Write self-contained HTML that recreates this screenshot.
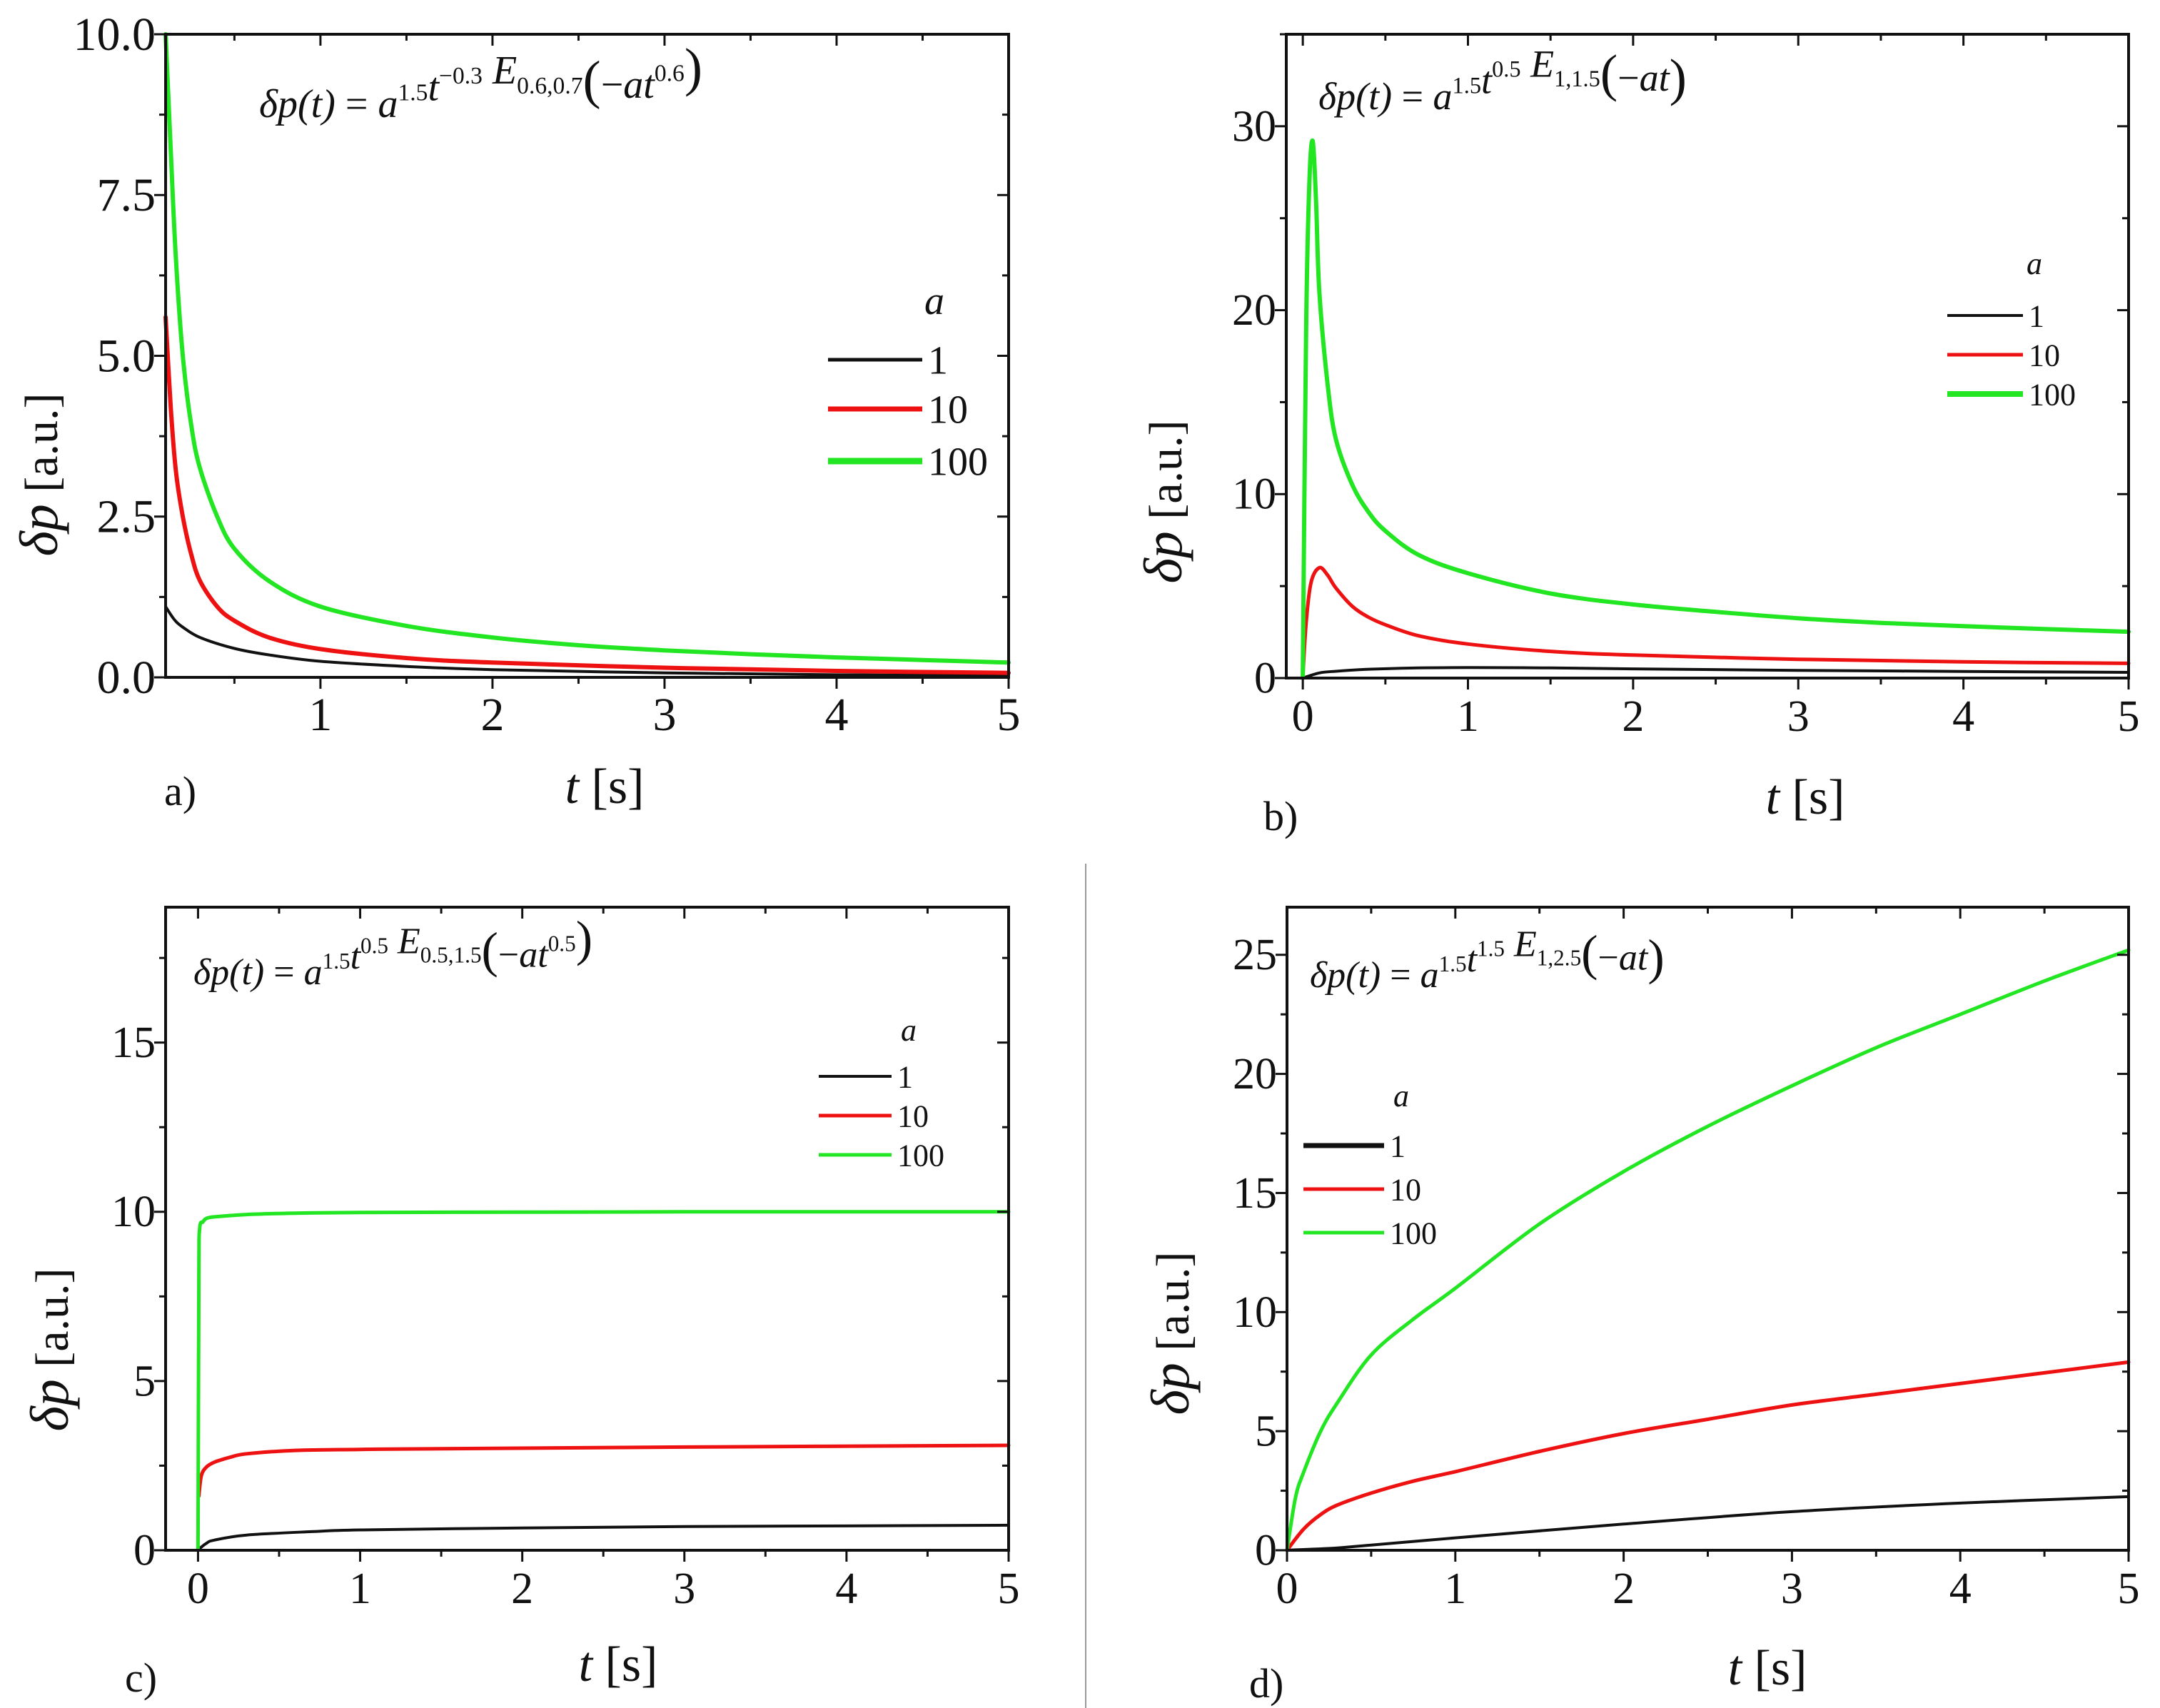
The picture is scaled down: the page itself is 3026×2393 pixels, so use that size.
<!DOCTYPE html>
<html><head><meta charset="utf-8">
<style>
html,body{margin:0;padding:0;background:#fff;}
svg{display:block;}
text{font-family:"Liberation Serif","Times New Roman",serif;fill:#111;}
</style></head>
<body>
<svg id="fig" width="3026" height="2393" viewBox="0 0 3026 2393" xmlns="http://www.w3.org/2000/svg" font-family="Liberation Serif, serif">
<rect width="3026" height="2393" fill="#fff"/>
<line x1="1521" y1="1210" x2="1521" y2="2393" stroke="#999" stroke-width="2"/>
</svg>
<script>
// ---- Panel a data ----
const aT_green=[0.1,0.13,0.16,0.2,0.25,0.3,0.4,0.5,0.7,1,1.5,2,2.5,3,3.5,4,4.5,5];
const aV_green=[10,8.2,6.5,5.0,3.9,3.25,2.5,2.0,1.5,1.1,0.8,0.62,0.5,0.42,0.36,0.31,0.27,0.23];
const aT_red=[0.1,0.13,0.16,0.2,0.25,0.3,0.4,0.5,0.7,1,1.5,2,3,4,5];
const aV_red=[5.6,4.2,3.2,2.5,1.9,1.5,1.1,0.88,0.62,0.44,0.3,0.23,0.15,0.1,0.07];
const aT_black=[0.1,0.15,0.2,0.3,0.5,0.7,1,1.5,2,3,4,5];
const aV_black=[1.1,0.9,0.78,0.62,0.45,0.35,0.25,0.17,0.12,0.07,0.04,0.03];
const aXTicks=[1,2,3,4,5];
const aYTicks=[0,2.5,5,7.5,10];
const aYLabels=["0.0","2.5","5.0","7.5","10.0"];
// ---- Panel b data ----
const bT_green=[0,0.02,0.04,0.06,0.08,0.1,0.15,0.2,0.3,0.4,0.5,0.7,1,1.5,2,2.5,3,3.5,4,4.5,5];
const bV_green=[0,19,27,29.2,26,21,16,13,10.5,9,8,6.7,5.7,4.6,4.0,3.6,3.25,3.0,2.82,2.66,2.52];
const bT_red=[0,0.02,0.05,0.1,0.15,0.2,0.3,0.4,0.5,0.7,1,1.5,2,3,4,5];
const bV_red=[0,3,5.2,6,5.6,4.9,3.9,3.3,2.9,2.3,1.85,1.45,1.25,1.02,0.88,0.8];
const bT_black=[0,0.1,0.2,0.4,0.7,1,1.5,2,3,4,5];
const bV_black=[0,0.28,0.37,0.48,0.55,0.57,0.55,0.5,0.42,0.36,0.31];
const bXTicks=[0,1,2,3,4,5];
const bYTicks=[0,10,20,30];
// ---- Panel c data ----
const cT_green=[0,0.005,0.01,0.03,0.05,0.1,0.3,0.6,1,2,3,4,5];
const cV_green=[0,8.0,9.5,9.7,9.8,9.85,9.92,9.96,9.98,9.99,10,10,10];
const cT_red=[0.005,0.02,0.05,0.1,0.2,0.3,0.6,1,1.5,3,5];
const cV_red=[1.6,2.2,2.45,2.6,2.75,2.85,2.95,2.98,3.0,3.05,3.1];
const cT_black=[0,0.01,0.05,0.1,0.3,0.7,1,2,3,4,5];
const cV_black=[0,0.05,0.2,0.3,0.45,0.55,0.6,0.66,0.7,0.72,0.74];
const cXTicks=[0,1,2,3,4,5];
const cYTicks=[0,5,10,15];
// ---- Panel d data ----
const dT_green=[0,0.05,0.1,0.2,0.3,0.5,0.75,1,1.5,2,2.5,3,3.5,4,4.5,5];
const dV_green=[0,2.2,3.3,5.0,6.2,8.2,9.7,11,13.7,15.9,17.8,19.5,21.1,22.5,23.9,25.2];
const dT_red=[0,0.1,0.2,0.3,0.5,0.75,1,1.5,2,2.5,3,3.5,4,4.5,5];
const dV_red=[0,0.9,1.5,1.9,2.4,2.9,3.3,4.15,4.9,5.5,6.1,6.55,7.0,7.45,7.9];
const dT_black=[0,0.3,0.5,1,2,3,4,5];
const dV_black=[0,0.1,0.22,0.52,1.1,1.62,1.98,2.25];
const dXTicks=[0,1,2,3,4,5];
const dYTicks=[0,5,10,15,20,25];

const NS="http://www.w3.org/2000/svg";
const svg=document.getElementById('fig');
function mk(tag,attrs,parent){const e=document.createElementNS(NS,tag);for(const k in attrs)e.setAttribute(k,attrs[k]);(parent||svg).appendChild(e);return e;}
function smoothPath(P){
  let d='M'+P[0][0].toFixed(1)+','+P[0][1].toFixed(1);
  for(let i=0;i<P.length-1;i++){
    const p0=P[i-1]||P[i],p1=P[i],p2=P[i+1],p3=P[i+2]||P[i+1];
    const c1=[p1[0]+(p2[0]-p0[0])/6,p1[1]+(p2[1]-p0[1])/6];
    const c2=[p2[0]-(p3[0]-p1[0])/6,p2[1]-(p3[1]-p1[1])/6];
    d+=' C'+c1.map(v=>v.toFixed(1)).join(',')+' '+c2.map(v=>v.toFixed(1)).join(',')+' '+p2.map(v=>v.toFixed(1)).join(',');
  }
  return d;
}
function panel(p){
  const g=mk('g',{});
  
  
  const sx=v=>p.L+(v-p.x0)/(p.x1-p.x0)*(p.R-p.L);
  const sy=v=>p.B-(v-p.y0)/(p.y1-p.y0)*(p.B-p.T);
  p.series.forEach(s=>{
    const P=s.t.map((t,i)=>[sx(t),sy(s.v[i])]);
    const pl=mk('path',{d:smoothPath(P),fill:'none',stroke:s.c,'stroke-width':s.w,'stroke-linejoin':'round','stroke-linecap':'round'},g);
    
    
  });
  const fr=mk('rect',{x:p.L,y:p.T,width:p.R-p.L,height:p.B-p.T,fill:'none',stroke:'#111','stroke-width':4},g);
  
  
  const ticks=mk('g',{stroke:'#111','stroke-width':3},g);
  
  
  for(let v=p.xMinorStart;v<=p.x1+1e-9;v+=p.xMinor){
    const x=sx(v),major=Math.abs(v-Math.round(v))<1e-6;const len=major?16:9;
    mk('line',{x1:x,y1:p.B,x2:x,y2:p.B+len},ticks);
    mk('line',{x1:x,y1:p.T,x2:x,y2:p.T+len},ticks);
  }
  for(let v=p.y0;v<=p.y1+1e-9;v+=p.yMinor){
    const y=sy(v),major=p.yTicks.some(t=>Math.abs(t-v)<1e-6);const len=major?16:9;
    mk('line',{x1:p.L-len,y1:y,x2:p.L,y2:y},ticks);
    mk('line',{x1:p.R-len,y1:y,x2:p.R,y2:y},ticks);
  }
  p.xTicks.forEach(v=>{
    const t=mk('text',{x:sx(v),y:p.B+74,'text-anchor':'middle','font-size':p.fs},g);
    
    
    t.textContent=String(v);
  });
  p.yTicks.forEach((v,i)=>{
    const t=mk('text',{x:p.L-14,y:sy(v)+p.fs*0.33,'text-anchor':'end','font-size':p.fs},g);
    
    
    t.textContent=p.yLabels?p.yLabels[i]:String(v);
  });
  const xt=mk('text',{x:p.xt[0],y:p.xt[1],'text-anchor':'middle','font-size':70},g);
  
  
  xt.innerHTML='<tspan font-style="italic">t</tspan> [s]';
  const yt=mk('text',{x:0,y:0,'text-anchor':'middle','font-size':66,transform:`translate(${p.yt[0]},${p.yt[1]}) rotate(-90)`},g);
  
  
  yt.innerHTML='<tspan font-style="italic" font-size="76">δp</tspan> [a.u.]';
  const pl=mk('text',{x:p.pl[0],y:p.pl[1],'font-size':58},g);
  
  
  pl.textContent=p.plab;
  const f=mk('text',{x:p.fx,y:p.fy,'font-size':p.ffs,'font-style':'italic'},g);
  
  
  f.innerHTML=p.formula;
  const lg=mk('g',{},g);
  
  
  const ah=mk('text',{x:p.lg.ax,y:p.lg.ay,'font-size':p.lg.fs,'font-style':'italic'},lg);
  
  
  ah.textContent='a';
  p.series.forEach((s,i)=>{
    const y=p.lg.ys[i];
    const e=mk('g',{},lg);
    
    
    mk('line',{x1:p.lg.x1,y1:y,x2:p.lg.x2,y2:y,stroke:s.c,'stroke-width':s.lw},e);
    const t=mk('text',{x:p.lg.x2+8,y:y+p.lg.fs*0.35,'font-size':p.lg.fs},e);
    t.textContent=s.lab;
  });
}
const sup=(s,fs)=>`<tspan dy="-${fs*0.42}" font-size="${fs*0.6}" font-style="normal">${s}</tspan><tspan dy="${fs*0.42}"></tspan>`;
const sub=(s,fs)=>`<tspan dy="${fs*0.25}" font-size="${fs*0.6}" font-style="normal">${s}</tspan><tspan dy="-${fs*0.25}"></tspan>`;
const big=s=>`<tspan font-style="normal" font-size="1.35em" dy="6">${s}</tspan><tspan dy="-6"></tspan>`;
function formula(tPow,eSub,arg,fs){
  return `δp(t) <tspan font-style="normal">=</tspan> a${sup('1.5',fs)}t${sup(tPow,fs)} E${sub(eSub,fs)}${big('(')}<tspan font-style="normal">−</tspan>a${arg}${big(')')}`;
}
const G='#22e622',R='#ee1111',K='#111';

panel({name:'panel-a',L:232,R:1413,T:48,B:949,x0:0.1,x1:5,y0:0,y1:10,xMinor:0.5,xMinorStart:0.5,yMinor:1.25,
  xTicks:aXTicks,yTicks:aYTicks,yLabels:aYLabels,fs:66,xt:[847,1125],yt:[80,665],pl:[230,1128],plab:'a)',
  fx:363,fy:164,ffs:56,formula:formula('−0.3','0.6,0.7','t'+sup('0.6',56),56),
  lg:{ax:1295,ay:440,fs:56,x1:1160,x2:1292,ys:[504,573,646]},
  series:[{t:aT_black,v:aV_black,c:K,w:4,lw:5,lab:'1'},{t:aT_red,v:aV_red,c:R,w:6,lw:7,lab:'10'},{t:aT_green,v:aV_green,c:G,w:6,lw:9,lab:'100'}]});
panel({name:'panel-b',L:1802,R:2982,T:48,B:950,x0:-0.1,x1:5,y0:0,y1:35,xMinor:0.5,xMinorStart:0,yMinor:5,
  xTicks:bXTicks,yTicks:bYTicks,fs:62,xt:[2529,1140],yt:[1655,703],pl:[1770,1163],plab:'b)',
  fx:1847,fy:153,ffs:54,formula:formula('0.5','1,1.5','t',54),
  lg:{ax:2839,ay:384,fs:44,x1:2728,x2:2834,ys:[442,497,552]},
  series:[{t:bT_black,v:bV_black,c:K,w:4,lw:4,lab:'1'},{t:bT_red,v:bV_red,c:R,w:5,lw:5,lab:'10'},{t:bT_green,v:bV_green,c:G,w:6,lw:8,lab:'100'}]});
panel({name:'panel-c',L:232,R:1413,T:1271,B:2172,x0:-0.2,x1:5,y0:0,y1:19,xMinor:0.5,xMinorStart:0,yMinor:2.5,
  xTicks:cXTicks,yTicks:cYTicks,fs:62,xt:[866,2355],yt:[95,1891],pl:[175,2370],plab:'c)',
  fx:271,fy:1379,ffs:52,formula:formula('0.5','0.5,1.5','t'+sup('0.5',52),52),
  lg:{ax:1262,ay:1458,fs:44,x1:1147,x2:1249,ys:[1508,1563,1618]},
  series:[{t:cT_black,v:cV_black,c:K,w:4,lw:4,lab:'1'},{t:cT_red,v:cV_red,c:R,w:5,lw:5,lab:'10'},{t:cT_green,v:cV_green,c:G,w:5,lw:5,lab:'100'}]});
panel({name:'panel-d',L:1803,R:2982,T:1271,B:2172,x0:0,x1:5,y0:0,y1:27,xMinor:0.5,xMinorStart:0,yMinor:2.5,
  xTicks:dXTicks,yTicks:dYTicks,fs:62,xt:[2476,2360],yt:[1665,1868],pl:[1750,2378],plab:'d)',
  fx:1835,fy:1383,ffs:52,formula:formula('1.5','1,2.5','t',52),
  lg:{ax:1952,ay:1550,fs:44,x1:1826,x2:1939,ys:[1605,1666,1727]},
  series:[{t:dT_black,v:dV_black,c:K,w:4,lw:7,lab:'1'},{t:dT_red,v:dV_red,c:R,w:5,lw:5,lab:'10'},{t:dT_green,v:dV_green,c:G,w:5,lw:5,lab:'100'}]});
</script>
</body></html>
